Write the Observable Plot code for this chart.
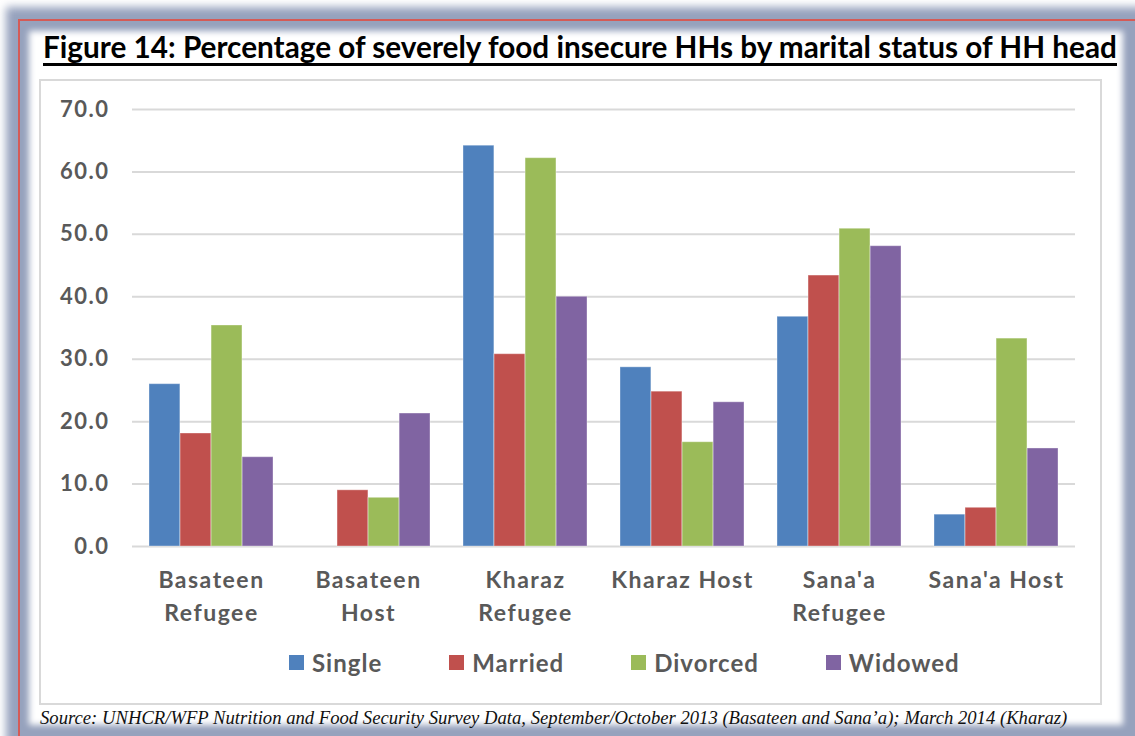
<!DOCTYPE html>
<html>
<head>
<meta charset="utf-8">
<script src="https://cdn.jsdelivr.net/npm/d3@7"></script>
<script src="https://cdn.jsdelivr.net/npm/@observablehq/plot@0.6"></script>
<style>
  html, body { margin: 0; padding: 0; background: #fff; }
  #page { position: relative; width: 1135px; height: 736px; overflow: hidden; background: #fff; }
  .abs { position: absolute; }
  #title { left: 43px; top: 32px; font-family: Lato, sans-serif; font-weight: bold; font-size: 27px; line-height: 30px; color: #000; white-space: nowrap; }
  #title span { border-bottom: 3px solid #000; padding-bottom: 1px; display: inline-block; }
  #source { left: 40px; top: 707px; font-family: "Liberation Serif", serif; font-style: italic; font-size: 17px; color: #111; white-space: nowrap; }
  #legend { left: 289px; top: 648px; display: flex; gap: 67px; font-family: Lato, sans-serif; font-weight: bold; font-size: 24px; letter-spacing: 1px; color: #595959; white-space: nowrap; }
  #legend .item { display: flex; align-items: center; gap: 8px; }
  #legend .sw { width: 15px; height: 15px; display: inline-block; }
  svg [aria-label="x-axis tick label"] { letter-spacing: 1.5px; }
  svg [aria-label="y-axis tick label"] { letter-spacing: 1.5px; }
</style>
</head>
<body>
<div id="page">
  <div class="abs" style="left:6px;top:7px;width:1150px;height:760px;background:#96a2bd;filter:blur(4px)"></div>
  <div class="abs" style="left:18px;top:19px;width:1130px;height:730px;border-top:2px solid #d45b57;border-left:2px solid #d45b57;box-sizing:border-box"></div>
  <div class="abs" style="left:29px;top:31px;width:1094px;height:694px;background:#fff;filter:blur(3px)"></div>
  <div class="abs" style="left:39px;top:79px;width:1063px;height:626px;border:2px solid #d9d9d9;box-sizing:border-box;background:#fff"></div>
  <div id="title" class="abs"><span>Figure 14: Percentage of severely food insecure HHs by marital status of HH head</span></div>
  <div id="chart" class="abs" style="left:40px;top:80px"></div>
  <div id="legend" class="abs"></div>
  <div id="source" class="abs"><span>Source: UNHCR/WFP Nutrition and Food Security Survey Data, September/October 2013 (Basateen and Sana’a); March 2014 (Kharaz)</span></div>
</div>
<script>
const groups = ["Basateen Refugee", "Basateen Host", "Kharaz Refugee", "Kharaz Host", "Sana'a Refugee", "Sana'a Host"];
const groupLabels = ["Basateen\nRefugee", "Basateen\nHost", "Kharaz\nRefugee", "Kharaz Host", "Sana'a\nRefugee", "Sana'a Host"];
const statuses = ["Single", "Married", "Divorced", "Widowed"];
const single   = [26.0, 0.0, 64.2, 28.7, 36.8, 5.1];
const married  = [18.1, 9.0, 30.8, 24.8, 43.4, 6.2];
const divorced = [35.4, 7.8, 62.2, 16.7, 50.9, 33.3];
const widowed  = [14.3, 21.3, 40.0, 23.1, 48.1, 15.7];
const yTicks = [0, 10, 20, 30, 40, 50, 60, 70];
const colors = ["#4F81BD", "#C0504D", "#9BBB59", "#8064A2"];

const series = [single, married, divorced, widowed];
const rows = [];
statuses.forEach((s, i) => groups.forEach((g, j) => rows.push({group: g, status: s, value: series[i][j]})));

const W = 1063, H = 625, ML = 92, MR = 28, MT = 29, MB = 159;
const padIn = 0.21, padOut = 0.105;
const step = (W - ML - MR) / (groups.length - padIn + 2 * padOut);
const band = step * (1 - padIn);
const bw = band / statuses.length;

const chart = Plot.plot({
  width: W, height: H,
  marginLeft: ML, marginRight: MR, marginTop: MT, marginBottom: MB,
  style: {fontFamily: "Lato, sans-serif", fontWeight: "bold", fontSize: "22px", color: "#595959", background: "transparent", overflow: "visible"},
  x: {domain: groups, paddingInner: padIn, paddingOuter: padOut, label: null},
  y: {domain: [0, 70], label: null},
  color: {domain: statuses, range: colors},
  marks: [
    Plot.gridY(yTicks, {stroke: "#d9d9d9", strokeOpacity: 1, strokeWidth: 2}),
    ...statuses.map((s, i) => Plot.barY(rows.filter(r => r.status === s), {
      x: "group", y: "value", fill: "status",
      insetLeft: i * bw, insetRight: (statuses.length - 1 - i) * bw,
      stroke: "#ffffff", strokeOpacity: 0.35, strokeWidth: 1
    })),
    Plot.axisY(yTicks, {tickSize: 0, tickPadding: 23, tickFormat: d => d.toFixed(1), fontSize: 22, fill: "#595959", label: null}),
    Plot.axisX({tickSize: 0, tickPadding: 18, tickFormat: d => groupLabels[groups.indexOf(d)], fontSize: 23, lineHeight: 1.43, fill: "#595959", label: null})
  ]
});
document.getElementById("chart").appendChild(chart);

const legend = document.getElementById("legend");
statuses.forEach((s, i) => {
  const item = document.createElement("div");
  item.className = "item";
  const sw = document.createElement("span");
  sw.className = "sw";
  sw.style.background = colors[i];
  const t = document.createElement("span");
  t.textContent = s;
  item.appendChild(sw); item.appendChild(t);
  legend.appendChild(item);
});

function fit(id, target) {
  const el = document.querySelector("#" + id + " span");
  const box = document.getElementById(id);
  const fs = parseFloat(getComputedStyle(box).fontSize);
  const w = el.getBoundingClientRect().width;
  box.style.fontSize = (fs * target / w) + "px";
}
fit("title", 1074);
fit("source", 1028);
</script>
</body>
</html>
